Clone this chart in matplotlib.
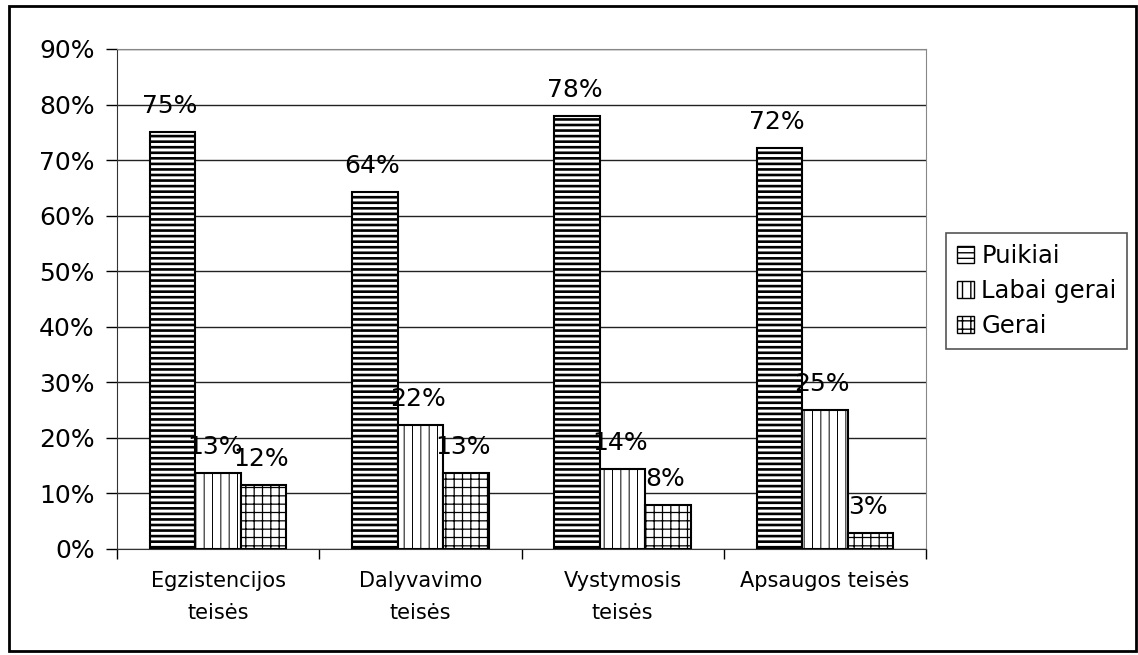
import matplotlib
matplotlib.use("Agg")
import numpy as np
import matplotlib.pyplot as plt
from matplotlib.patches import Patch, Rectangle

categories = ["Egzistencijos\nteisės", "Dalyvavimo\nteisės", "Vystymosis\nteisės", "Apsaugos teisės"]
series_names = ["Puikiai", "Labai gerai", "Gerai"]

# bar heights, labels as printed
puikiai = [75.0, 64.3, 77.9, 72.2]
labai_gerai = [13.7, 22.3, 14.4, 25.0]
gerai = [11.5, 13.7, 7.9, 2.9]

puikiai_lbl = ["75%", "64%", "78%", "72%"]
labai_gerai_lbl = ["13%", "22%", "14%", "25%"]
gerai_lbl = ["12%", "13%", "8%", "3%"]

yticks = [0, 10, 20, 30, 40, 50, 60, 70, 80, 90]

plt.rcParams['font.family'] = ['DejaVu Sans']

fig = plt.figure(figsize=(11.38, 6.55), dpi=100)
ax = fig.add_axes([117 / 1138, 1 - 549 / 655, (926 - 117) / 1138, (549 - 49) / 655])

x = np.arange(len(categories))
w = 0.225
hatches = ['---', '||', '++']
hatch_lw = [1.9, 0.7, 0.9]
data = [puikiai, labai_gerai, gerai]
labels = [puikiai_lbl, labai_gerai_lbl, gerai_lbl]

for i in range(3):
    with plt.rc_context({'hatch.linewidth': hatch_lw[i]}):
        bars = ax.bar(x + (i - 1) * w, data[i], w, color='white', edgecolor='black',
                      linewidth=1.5, hatch=hatches[i], zorder=3)
    for b in bars:
        if hasattr(b, 'set_hatch_linewidth'):
            b.set_hatch_linewidth(hatch_lw[i])
    for xi, v, t in zip(x + (i - 1) * w, data[i], labels[i]):
        ax.annotate(t, (xi, v), xytext=(-2, 10), textcoords='offset points',
                    ha='center', va='bottom', fontsize=18, zorder=4)

ax.set_ylim(0, 90)
ax.set_xlim(-0.5, 3.5)
ax.set_yticks(yticks)
ax.set_yticklabels([f"{t}%" for t in yticks], fontsize=18)
ax.yaxis.grid(True, color='#222222', linewidth=1.0, zorder=0)
ax.set_axisbelow(True)

ax.set_xticks(x)
ax.set_xticklabels(categories, fontsize=15, linespacing=1.75)
ax.set_xticks(np.arange(-0.5, 4.0, 1.0), minor=True)
ax.tick_params(axis='x', which='major', length=0, pad=16)
ax.tick_params(axis='x', which='minor', length=7, width=1, direction='out')
ax.tick_params(axis='y', length=8, width=1, direction='out', pad=8)

ax.spines['left'].set_color('#333333')
ax.spines['bottom'].set_color('#333333')
ax.spines['top'].set_color('#888888')
ax.spines['right'].set_color('#888888')

handles = []
for i in range(3):
    with plt.rc_context({'hatch.linewidth': hatch_lw[i]}):
        p = Patch(facecolor='white', edgecolor='black', hatch=hatches[i], label=series_names[i])
    if hasattr(p, 'set_hatch_linewidth'):
        p.set_hatch_linewidth(hatch_lw[i])
    handles.append(p)

leg = fig.legend(handles=handles, loc='center left', bbox_to_anchor=(946 / 1138, 1 - 291 / 655),
                 fontsize=17.5, frameon=True, fancybox=False, edgecolor='#555555', framealpha=1,
                 handlelength=0.7, handleheight=0.7, handletextpad=0.3, labelspacing=0.45,
                 borderpad=0.45, borderaxespad=0)
leg.get_frame().set_linewidth(1.2)

fig.add_artist(Rectangle((9 / 1138, 1 - 651 / 655), (1136 - 9) / 1138, (651 - 6) / 655,
                         transform=fig.transFigure, fill=False, edgecolor='black', linewidth=2))

fig.savefig("out.png", dpi=100)
